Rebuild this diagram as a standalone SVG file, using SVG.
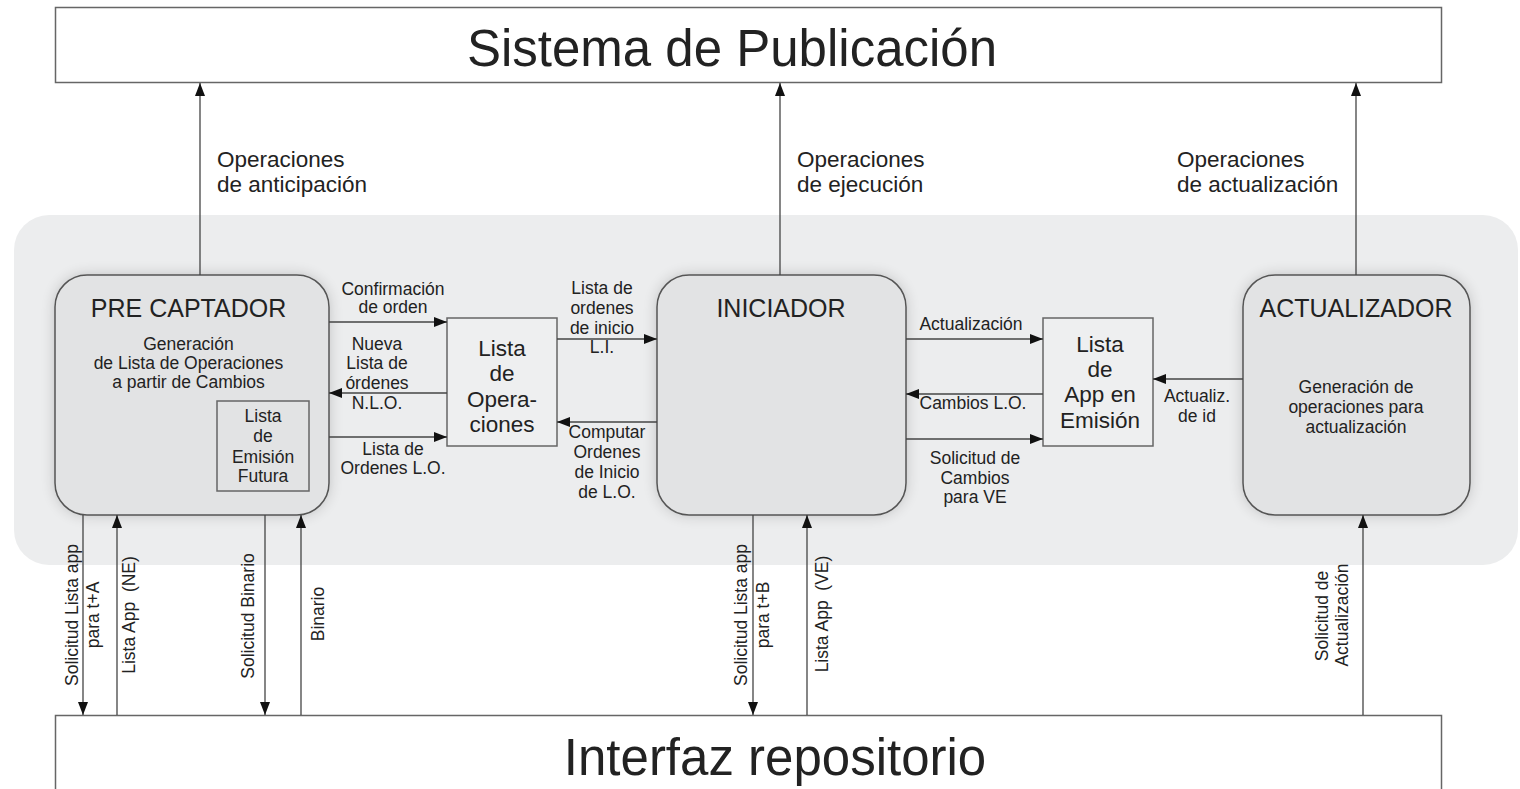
<svg xmlns="http://www.w3.org/2000/svg" width="1520" height="789" viewBox="0 0 1520 789">
<defs>
<style>
text{font-family:"Liberation Sans",Arial,sans-serif;fill:#222}
.big{font-size:51px;text-anchor:middle}
.title{font-size:25px;text-anchor:middle}
.lg{font-size:22.5px}
.box{font-size:22.5px;text-anchor:middle}
.sm{font-size:17.5px;text-anchor:middle}
.rot{font-size:17.5px;text-anchor:middle;white-space:pre}
.frame{fill:#fff;stroke:#666;stroke-width:1.5}
.node{fill:#e2e3e4;stroke:#555;stroke-width:1.5}
.lst{fill:#eeeff0;stroke:#666;stroke-width:1.5}
.inner{fill:#e2e3e4;stroke:#666;stroke-width:1.5}
.c{stroke:#444;stroke-width:1.3;fill:none;marker-end:url(#ah)}
</style>
<marker id="ah" markerUnits="userSpaceOnUse" markerWidth="14" markerHeight="11" refX="13" refY="5" orient="auto">
<path d="M0,0 L13,5 L0,10 z" fill="#111"/>
</marker>
<filter id="sh" x="-15%" y="-15%" width="130%" height="130%">
<feGaussianBlur in="SourceAlpha" stdDeviation="7"/>
<feComponentTransfer><feFuncA type="linear" slope="0.18"/></feComponentTransfer>
<feMerge><feMergeNode/><feMergeNode in="SourceGraphic"/></feMerge>
</filter>
</defs>
<rect width="1520" height="789" fill="#fff"/>
<rect id="panel" x="14" y="215" width="1504" height="350" rx="35" fill="#ecedee"/>

<g id="sistema">
<rect class="frame" x="55.5" y="7.5" width="1386" height="75"/>
<text class="big" x="732" y="66">Sistema de Publicación</text>
</g>
<g id="interfaz">
<rect class="frame" x="55.5" y="715.5" width="1386" height="100"/>
<text class="big" x="775" y="775">Interfaz repositorio</text>
</g>

<g id="precaptador">
<rect class="node" x="55" y="275" width="274" height="240" rx="32" filter="url(#sh)"/>
<text class="title" x="188.5" y="317">PRE CAPTADOR</text>
<text class="sm" x="188.5" y="350">Generación</text>
<text class="sm" x="188.5" y="369">de Lista de Operaciones</text>
<text class="sm" x="188.5" y="388">a partir de Cambios</text>
<g id="emision-futura">
<rect class="inner" x="217" y="401" width="92" height="90"/>
<text class="sm" x="263" y="422">Lista</text>
<text class="sm" x="263" y="442">de</text>
<text class="sm" x="263" y="463">Emisión</text>
<text class="sm" x="263" y="482">Futura</text>
</g>
</g>

<g id="lista-operaciones">
<rect class="lst" x="447" y="318" width="110" height="128"/>
<text class="box" x="502" y="356">Lista</text>
<text class="box" x="502" y="381">de</text>
<text class="box" x="502" y="407">Opera-</text>
<text class="box" x="502" y="432">ciones</text>
</g>

<g id="iniciador">
<rect class="node" x="657" y="275" width="249" height="240" rx="32" filter="url(#sh)"/>
<text class="title" x="781" y="317">INICIADOR</text>
</g>

<g id="lista-app">
<rect class="lst" x="1043" y="318" width="110" height="128"/>
<text class="box" x="1100" y="352">Lista</text>
<text class="box" x="1100" y="377">de</text>
<text class="box" x="1100" y="402">App en</text>
<text class="box" x="1100" y="428">Emisión</text>
</g>

<g id="actualizador">
<rect class="node" x="1243" y="275" width="227" height="240" rx="32" filter="url(#sh)"/>
<text class="title" x="1356" y="317">ACTUALIZADOR</text>
<text class="sm" x="1356" y="393">Generación de</text>
<text class="sm" x="1356" y="413">operaciones para</text>
<text class="sm" x="1356" y="433">actualización</text>
</g>

<g id="connectors">
<line class="c" x1="200" y1="275" x2="200" y2="83"/>
<line class="c" x1="780" y1="275" x2="780" y2="83"/>
<line class="c" x1="1356" y1="275" x2="1356" y2="83"/>
<line class="c" x1="329" y1="322" x2="447" y2="322"/>
<line class="c" x1="447" y1="393" x2="329" y2="393"/>
<line class="c" x1="329" y1="437" x2="447" y2="437"/>
<line class="c" x1="557" y1="339" x2="657" y2="339"/>
<line class="c" x1="657" y1="422" x2="557" y2="422"/>
<line class="c" x1="906" y1="339" x2="1043" y2="339"/>
<line class="c" x1="1043" y1="394" x2="906" y2="394"/>
<line class="c" x1="906" y1="439" x2="1043" y2="439"/>
<line class="c" x1="1243" y1="379" x2="1153" y2="379"/>
<line class="c" x1="83" y1="515" x2="83" y2="715"/>
<line class="c" x1="117" y1="715" x2="117" y2="515"/>
<line class="c" x1="265" y1="515" x2="265" y2="715"/>
<line class="c" x1="301" y1="715" x2="301" y2="515"/>
<line class="c" x1="753" y1="515" x2="753" y2="715"/>
<line class="c" x1="807" y1="715" x2="807" y2="515"/>
<line class="c" x1="1363" y1="715" x2="1363" y2="515"/>

<g id="labels">
<text class="lg" x="217" y="167">Operaciones</text>
<text class="lg" x="217" y="192">de anticipación</text>
<text class="lg" x="797" y="167">Operaciones</text>
<text class="lg" x="797" y="192">de ejecución</text>
<text class="lg" x="1177" y="167">Operaciones</text>
<text class="lg" x="1177" y="192">de actualización</text>

<text class="sm" x="393" y="295">Confirmación</text>
<text class="sm" x="393" y="313">de orden</text>
<text class="sm" x="377" y="350">Nueva</text>
<text class="sm" x="377" y="369">Lista de</text>
<text class="sm" x="377" y="389">órdenes</text>
<text class="sm" x="377" y="409">N.L.O.</text>
<text class="sm" x="393" y="455">Lista de</text>
<text class="sm" x="393" y="474">Ordenes L.O.</text>

<text class="sm" x="602" y="294">Lista de</text>
<text class="sm" x="602" y="314">ordenes</text>
<text class="sm" x="602" y="334">de inicio</text>
<text class="sm" x="602" y="353">L.I.</text>
<text class="sm" x="607" y="438">Computar</text>
<text class="sm" x="607" y="458">Ordenes</text>
<text class="sm" x="607" y="478">de Inicio</text>
<text class="sm" x="607" y="498">de L.O.</text>

<text class="sm" x="971" y="330">Actualización</text>
<text class="sm" x="973" y="409">Cambios L.O.</text>
<text class="sm" x="975" y="464">Solicitud de</text>
<text class="sm" x="975" y="484">Cambios</text>
<text class="sm" x="975" y="503">para VE</text>
<text class="sm" x="1197" y="402">Actualiz.</text>
<text class="sm" x="1197" y="422">de id</text>

<text class="rot" transform="translate(78,615) rotate(-90)">Solicitud Lista app</text>
<text class="rot" transform="translate(99,615) rotate(-90)">para t+A</text>
<text class="rot" transform="translate(135,615) rotate(-90)">Lista App  (NE)</text>
<text class="rot" transform="translate(254,616) rotate(-90)">Solicitud Binario</text>
<text class="rot" transform="translate(324,614) rotate(-90)">Binario</text>
<text class="rot" transform="translate(747,615) rotate(-90)">Solicitud Lista app</text>
<text class="rot" transform="translate(769,615) rotate(-90)">para t+B</text>
<text class="rot" transform="translate(828,614) rotate(-90)">Lista App  (VE)</text>
<text class="rot" transform="translate(1328,616) rotate(-90)">Solicitud de</text>
<text class="rot" transform="translate(1348,615) rotate(-90)">Actualización</text>
</g>
</g>
</svg>
